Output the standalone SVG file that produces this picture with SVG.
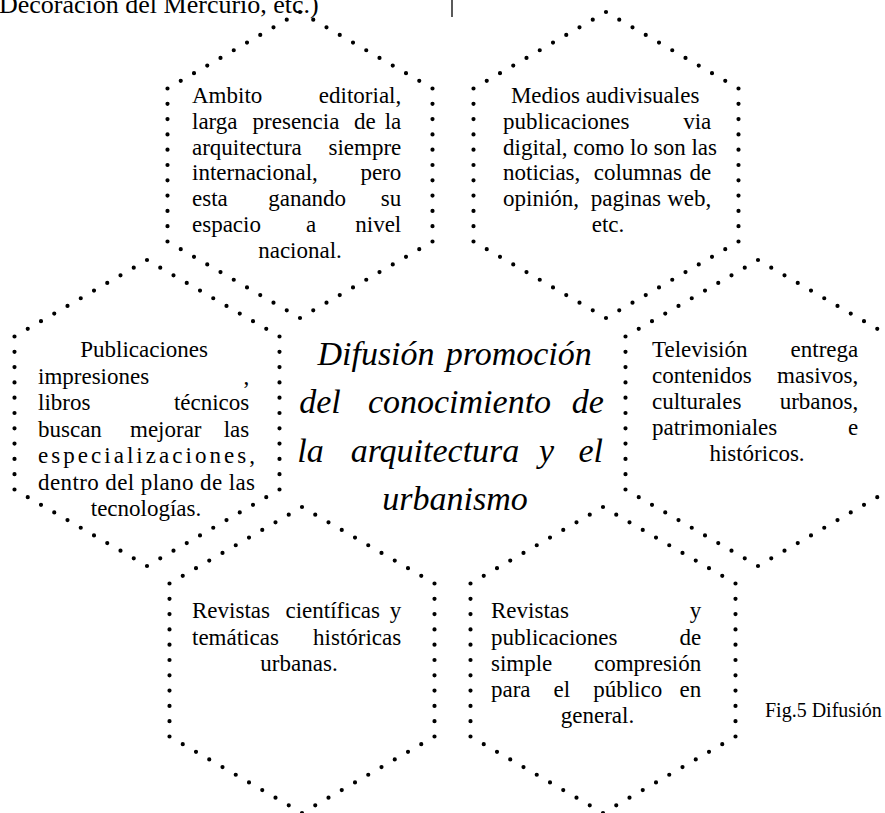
<svg xmlns="http://www.w3.org/2000/svg" width="885" height="813" viewBox="0 0 885 813">
<style>
.hex{fill:none;stroke:#000;stroke-width:4.2;stroke-linecap:round;stroke-dasharray:0 1}
.t{font-family:"Liberation Serif","Times New Roman",serif;font-size:23px;fill:#000}
.e{text-anchor:end}
.m{text-anchor:middle}
.ti{font-family:"Liberation Serif","Times New Roman",serif;font-style:italic;font-size:34px;fill:#000;text-anchor:middle}
</style>
<rect width="885" height="813" fill="#fff"/>
<g id="page-fragment">
<text class="t" x="-1" y="13" style="font-size:26px">Decoración del Mercurio, etc.)</text>
<line x1="452" y1="0" x2="452" y2="17" stroke="#000" stroke-width="1.3"/>
</g>
<g id="hex-editorial">
<path class="hex" pathLength="60" d="M300,12 L432.5,88.5 L432.5,241.5 L300,318 L167.5,241.5 L167.5,88.5 Z"/>
<text class="t">
<tspan x="192" y="102.7">Ambito</tspan><tspan class="e" x="407">editorial,</tspan>
<tspan x="192" y="128.6">larga</tspan><tspan x="252.6">presencia</tspan><tspan x="354">de</tspan><tspan class="e" x="407">la</tspan>
<tspan x="192" y="154.5">arquitectura</tspan><tspan class="e" x="407">siempre</tspan>
<tspan x="192" y="180.4">internacional,</tspan><tspan class="e" x="407">pero</tspan>
<tspan x="192" y="206.3">esta</tspan><tspan x="268.2">ganando</tspan><tspan class="e" x="407">su</tspan>
<tspan x="192" y="232.2">espacio</tspan><tspan x="306">a</tspan><tspan class="e" x="407">nivel</tspan>
<tspan class="m" x="300" y="258.1">nacional.</tspan>
</text>
</g>
<g id="hex-audiovisual">
<path class="hex" pathLength="60" d="M606,12 L738.5,88.5 L738.5,241.5 L606,318 L473.5,241.5 L473.5,88.5 Z"/>
<text class="t">
<tspan class="m" x="608" y="102.7">Medios audivisuales</tspan>
<tspan x="503" y="128.6">publicaciones</tspan><tspan class="e" x="717">via</tspan>
<tspan x="503" y="180.4">noticias,</tspan><tspan x="593.7">columnas</tspan><tspan class="e" x="717">de</tspan>
<tspan x="503" y="206.3">opinión,</tspan><tspan x="590.8">paginas</tspan><tspan class="e" x="717">web,</tspan>
<tspan class="m" x="608" y="232.2">etc.</tspan>
</text>
<text class="t" x="503" y="154.5" textLength="214" lengthAdjust="spacing">digital, como lo son las</text>
</g>
<g id="hex-impresos">
<path class="hex" pathLength="60" d="M147,260 L279.5,336.5 L279.5,489.5 L147,566 L14.5,489.5 L14.5,336.5 Z"/>
<text class="t">
<tspan class="m" x="147" y="357">Publicaciones</tspan>
<tspan x="38" y="383.5">impresiones</tspan><tspan class="e" x="255">,</tspan>
<tspan x="38" y="410">libros</tspan><tspan class="e" x="255">técnicos</tspan>
<tspan x="38" y="436.5">buscan</tspan><tspan x="130">mejorar</tspan><tspan class="e" x="255">las</tspan>
<tspan class="m" x="146" y="516">tecnologías.</tspan>
</text>
<text class="t" x="38" y="463" textLength="217" lengthAdjust="spacing">especializaciones,</text>
<text class="t" x="38" y="489.5" textLength="217" lengthAdjust="spacing">dentro del plano de las</text>
</g>
<g id="hex-television">
<path class="hex" pathLength="60" d="M758,260 L890.5,336.5 L890.5,489.5 L758,566 L625.5,489.5 L625.5,336.5 Z"/>
<text class="t">
<tspan x="652" y="356.7">Televisión</tspan><tspan class="e" x="864">entrega</tspan>
<tspan x="652" y="382.7">contenidos</tspan><tspan class="e" x="864">masivos,</tspan>
<tspan x="652" y="408.7">culturales</tspan><tspan class="e" x="864">urbanos,</tspan>
<tspan x="652" y="434.7">patrimoniales</tspan><tspan class="e" x="864">e</tspan>
<tspan class="m" x="757" y="460.7">históricos.</tspan>
</text>
</g>
<g id="hex-cientificas">
<path class="hex" pathLength="60" d="M302,507 L434.5,583.5 L434.5,736.5 L302,813 L169.5,736.5 L169.5,583.5 Z"/>
<text class="t">
<tspan x="192" y="618">Revistas</tspan><tspan x="285.5">científicas</tspan><tspan class="e" x="407">y</tspan>
<tspan x="192" y="644.5">temáticas</tspan><tspan class="e" x="407">históricas</tspan>
<tspan class="m" x="299" y="671">urbanas.</tspan>
</text>
</g>
<g id="hex-publico">
<path class="hex" pathLength="60" d="M603,507 L735.5,583.5 L735.5,736.5 L603,813 L470.5,736.5 L470.5,583.5 Z"/>
<text class="t">
<tspan x="491" y="618">Revistas</tspan><tspan class="e" x="707">y</tspan>
<tspan x="491" y="644.5">publicaciones</tspan><tspan class="e" x="707">de</tspan>
<tspan x="491" y="671">simple</tspan><tspan class="e" x="707">compresión</tspan>
<tspan x="491" y="697">para</tspan><tspan x="553.6">el</tspan><tspan x="593.2">público</tspan><tspan class="e" x="707">en</tspan>
<tspan class="m" x="597.5" y="722.5">general.</tspan>
</text>
</g>
<g id="center-title">
<text class="ti">
<tspan x="376" y="365">Difusión</tspan><tspan x="523">promoción</tspan>
<tspan x="320" y="413">del</tspan><tspan x="459.5">conocimiento</tspan><tspan x="592">de</tspan>
<tspan x="310.5" y="462">la</tspan><tspan x="435">arquitectura</tspan><tspan x="546.5">y</tspan><tspan x="595">el</tspan>
<tspan x="455" y="510">urbanismo</tspan>
</text>
</g>
<g id="connectors"></g>
<g id="caption">
<text class="t" x="765" y="717" style="font-size:20px">Fig.5 Difusión</text>
</g>
</svg>
